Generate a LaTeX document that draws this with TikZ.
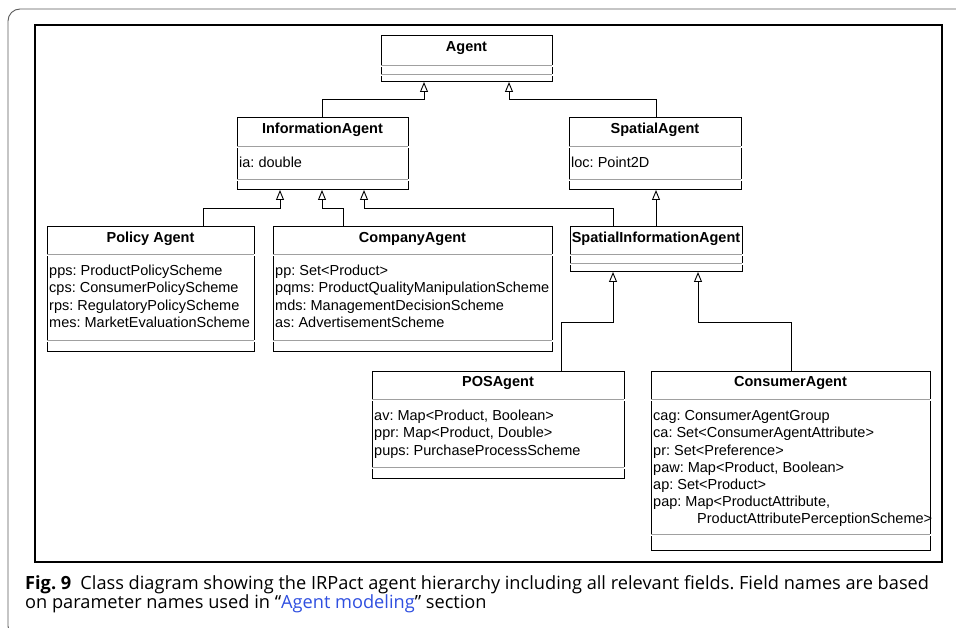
\documentclass[tikz,border=0pt]{standalone}
\usepackage{fontspec}
\setmainfont{Liberation Sans}
\newfontfamily\capfont{Open Sans}
\usetikzlibrary{arrows.meta}
\frenchspacing

\definecolor{sepgray}{HTML}{A0A0A0}
\definecolor{framegray}{HTML}{5A5A5A}
\definecolor{linkblue}{HTML}{2F4FE0}

\tikzset{
  classbox/.style={draw=black, line width=1pt, inner sep=0pt, outer sep=0pt, fill=white},
  sepline/.style={draw=sepgray, line width=0.9pt},
  titletext/.style={font=\fontsize{14.5}{17}\selectfont\bfseries, inner sep=0pt, anchor=base},
  fieldtext/.style={font=\fontsize{14.5}{17.2}\selectfont, inner sep=0pt, anchor=base west},
  inherit/.style={draw=black, line width=0.9pt, -{Triangle[open, length=10pt, width=8pt, line width=0.9pt]}},
  outerframe/.style={draw=framegray, line width=0.9pt, rounded corners=12pt},
  innerframe/.style={draw=black, line width=1.2pt},
  captext/.style={font=\capfont\fontsize{18.2}{18}\selectfont, inner sep=0pt, anchor=base west},
}

% UML class: name, left, top, right, separator 1, separator 2, bottom, title, fields
\newcommand{\umlclass}[9]{%
  \node[classbox, minimum width={#4-#2}, minimum height={#7-#3}, anchor=north west] (#1) at (#2,#3) {};
  \fill[white] (#2-1,#5) rectangle (#4+1,#5+2);
  \fill[white] (#2-1,#6) rectangle (#4+1,#6+2);
  \draw[sepline] (#2,#5) -- (#4,#5);
  \draw[sepline] (#2,#6) -- (#4,#6);
  \node[titletext] (#1-title) at ({(#2+#4)/2},#3+15.5) {#8};
  \node[fieldtext] (#1-fields) at (#2+2,#5+21.7) {\begin{tabular}[t]{@{}l@{}}#9\end{tabular}};
}

\begin{document}
\begin{tikzpicture}[x=1pt,y=-1pt]
\useasboundingbox (0,0) rectangle (956,628);

\begin{scope}
  \clip (0,0) rectangle (956,628);
  \draw[outerframe] (980,638) -- (8,638) -- (8,9) -- (980,9);
\end{scope}

\draw[innerframe] (35,25) rectangle (942,562);

\umlclass{agent}{381}{36}{552}{65}{74}{82}{Agent}{}
\umlclass{info}{237}{118}{408}{146}{179}{190}{InformationAgent}{ia: double}
\umlclass{spatial}{569}{118}{741}{146}{179}{190}{SpatialAgent}{loc: Point2D}
\umlclass{policy}{47}{227}{254}{254}{340}{352}{Policy Agent}{%
  pps: ProductPolicyScheme\\
  cps: ConsumerPolicyScheme\\
  rps: RegulatoryPolicyScheme\\
  mes: MarketEvaluationScheme}
\umlclass{company}{273}{227}{552}{254}{340}{352}{CompanyAgent}{%
  pp: Set<Product>\\
  pqms: ProductQualityManipulationScheme\\
  mds: ManagementDecisionScheme\\
  as: AdvertisementScheme}
\umlclass{sinfo}{570}{227}{742}{254}{263}{272}{SpatialInformationAgent}{}
\umlclass{pos}{372}{371}{624}{399}{467}{478}{POSAgent}{%
  av: Map<Product, Boolean>\\
  ppr: Map<Product, Double>\\
  pups: PurchaseProcessScheme}
\umlclass{consumer}{651}{371}{930}{399}{534}{550}{ConsumerAgent}{%
  cag: ConsumerAgentGroup\\
  ca: Set<ConsumerAgentAttribute>\\
  pr: Set<Preference>\\
  paw: Map<Product, Boolean>\\
  ap: Set<Product>\\
  pap: Map<ProductAttribute,\\
  \hspace*{44pt}ProductAttributePerceptionScheme>}

% generalisation links
\draw[inherit] (info.north -| 322,0) |- (424,99) -- (agent.south -| 424,0);
\draw[inherit] (spatial.north -| 656,0) |- (509,99) -- (agent.south -| 509,0);
\draw[inherit] (policy.north -| 203,0) |- (280,208) -- (info.south -| 280,0);
\draw[inherit] (company.north -| 343,0) |- (322,208) -- (info.south -| 322,0);
\draw[inherit] (sinfo.north -| 613,0) |- (364,208) -- (info.south -| 364,0);
\draw[inherit] (sinfo.north -| 656,0) -- (spatial.south -| 656,0);
\draw[inherit] (pos.north -| 561,0) |- (613,322) -- (sinfo.south -| 613,0);
\draw[inherit] (consumer.north -| 791,0) |- (698,322) -- (sinfo.south -| 698,0);

\node[captext] (caption) at (25,589) {\begin{tabular}[t]{@{}l@{}}\textbf{Fig. 9}\hspace{0.5em}Class diagram showing the IRPact agent hierarchy including all relevant fields. Field names are based\\
on parameter names used in “\textcolor{linkblue}{Agent modeling}” section\end{tabular}};
\end{tikzpicture}
\end{document}
